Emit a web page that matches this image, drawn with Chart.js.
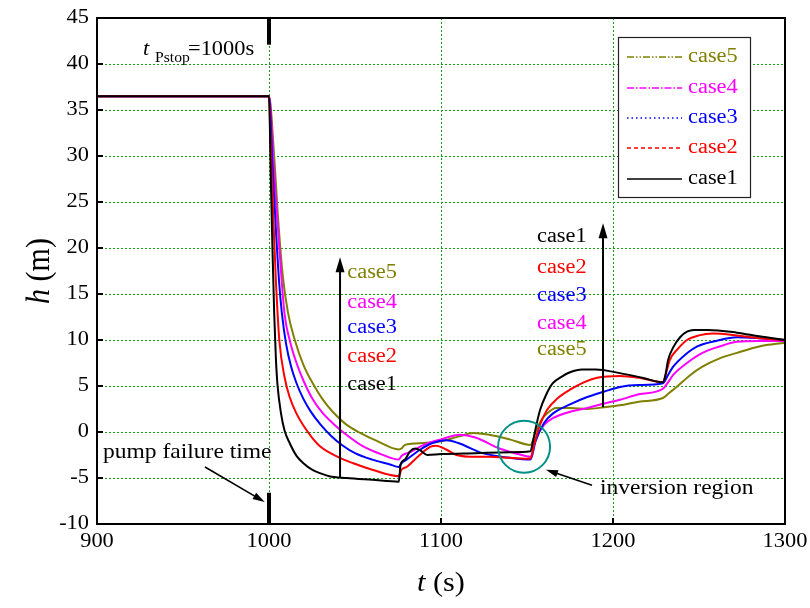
<!DOCTYPE html>
<html>
<head>
<meta charset="utf-8">
<script src="https://cdn.jsdelivr.net/npm/chart.js@4/dist/chart.umd.min.js"></script>
<style>
  html, body { margin: 0; padding: 0; background: #fff; }
  #wrap { width: 810px; height: 608px; }
</style>
</head>
<body>
<div id="wrap"><canvas id="c" width="810" height="608"></canvas></div>
<script>
// Water level h (m) after pump stop, five cases
const case1T = [900, 1000, 1001, 1002, 1003, 1004, 1005, 1007, 1009, 1012, 1016, 1020, 1025, 1030, 1035, 1045, 1060, 1075.5, 1076.5, 1079, 1082, 1085, 1088, 1092, 1100, 1120, 1140, 1152, 1153.5, 1155.5, 1157.6, 1161, 1165, 1170, 1175, 1182, 1190, 1204, 1217, 1229, 1230.5, 1232, 1235, 1239, 1243, 1247, 1255, 1272, 1285, 1300];
const case1H = [36.5, 36.5, 28, 20, 13, 8, 5, 2, 0.2, -1.2, -2.6, -3.4, -4.1, -4.5, -4.8, -5.0, -5.2, -5.4, -3.5, -3.0, -2.1, -1.8, -2.0, -2.5, -2.4, -2.3, -2.2, -2.1, -1.0, 0.8, 2.4, 4.0, 5.3, 6.0, 6.5, 6.8, 6.8, 6.4, 5.9, 5.4, 6.2, 7.8, 9.2, 10.3, 10.9, 11.1, 11.1, 10.8, 10.4, 10.0];

const case2T = [900, 1000, 1001, 1002, 1003, 1004, 1006, 1009, 1012, 1016, 1020, 1025, 1030, 1040, 1049, 1060, 1075.5, 1077, 1080, 1087, 1094, 1097, 1103, 1109, 1120, 1128, 1140, 1152, 1154, 1157, 1161.6, 1168, 1175, 1183, 1190.7, 1204, 1215, 1229, 1231, 1233, 1238, 1243, 1250, 1258, 1272, 1285, 1300];
const case2H = [36.5, 36.5, 31, 26, 21, 16.5, 10, 6.0, 3.8, 2.0, 0.7, -0.6, -1.6, -2.7, -3.4, -4.1, -4.8, -4.1, -3.8, -2.6, -1.6, -1.5, -1.9, -2.5, -2.7, -2.7, -2.8, -2.9, -1.5, 0.5, 2.4, 3.7, 4.6, 5.4, 5.9, 6.1, 5.9, 5.4, 6.5, 7.8, 9.1, 10.0, 10.5, 10.7, 10.5, 10.2, 10.0];

const case3T = [900, 1000, 1002, 1004, 1006, 1007.5, 1010, 1013, 1016, 1020, 1024, 1030, 1036, 1043, 1050, 1060, 1070, 1075.5, 1077, 1080, 1088, 1095, 1103, 1110, 1124, 1140, 1152, 1155, 1160, 1165, 1175, 1185, 1195, 1204, 1215, 1229, 1232, 1235, 1242, 1249, 1260, 1272, 1285, 1300];
const case3H = [36.5, 36.5, 29, 22, 16, 12.9, 9.5, 7, 5.3, 3.6, 2.3, 0.8, -0.4, -1.5, -2.3, -3.0, -3.5, -3.8, -3.4, -3.0, -1.9, -1.2, -0.9, -1.2, -2.3, -2.8, -3.0, -1.0, 1.0, 2.0, 3.0, 3.8, 4.4, 4.9, 5.1, 5.3, 6.2, 7.1, 8.4, 9.3, 9.9, 10.3, 10.2, 10.0];

const case4T = [900, 1000, 1003, 1006, 1009, 1012, 1016, 1020, 1025, 1031, 1038, 1045, 1055, 1065, 1075.5, 1077, 1082, 1090, 1100, 1111, 1120, 1134, 1145, 1152, 1155, 1160, 1165, 1175, 1185, 1195, 1204, 1215, 1229, 1232, 1235, 1243, 1252, 1262, 1272, 1285, 1300];
const case4H = [36.5, 36.5, 28, 20, 12.9, 10, 7.5, 5.6, 3.7, 2.1, 0.8, -0.3, -1.6, -2.4, -3.0, -2.6, -2.2, -1.4, -0.8, -0.3, -0.6, -1.8, -2.4, -2.7, -0.8, 0.8, 1.5, 2.2, 2.6, 3.1, 3.5, 4.1, 4.7, 5.4, 6.2, 7.5, 8.6, 9.3, 9.8, 9.9, 9.9];

const case5T = [900, 1000, 1003, 1005, 1008, 1011, 1015, 1020, 1026, 1031, 1037, 1045, 1053, 1063, 1075.5, 1077, 1079, 1090, 1100, 1110, 1119, 1128, 1140, 1152, 1155, 1158, 1161.6, 1167, 1175, 1185, 1195, 1204, 1215, 1229, 1233, 1237, 1245, 1252, 1262, 1272, 1285, 1300];
const case5H = [36.5, 36.5, 30, 24, 17, 13, 10, 7.3, 5.1, 3.6, 2.2, 0.8, -0.1, -1.0, -1.9, -1.8, -1.4, -1.2, -1.0, -0.5, -0.1, -0.3, -0.8, -1.4, 0, 1.2, 2.0, 2.6, 2.6, 2.5, 2.7, 2.9, 3.3, 3.7, 4.3, 4.9, 6.2, 7.1, 8.0, 8.6, 9.3, 9.7];

const caseLabels = ['case1', 'case2', 'case3', 'case4', 'case5'];
const caseColors = ['#000000', '#ff0000', '#0000ff', '#ff00ff', '#808000'];
const caseDashes = [[], [4, 3], [1.5, 3], [7, 2, 1.5, 2], [7, 2, 1.5, 2, 1.5, 2]];

const xTicks = [900, 1000, 1100, 1200, 1300];
const yTicks = [-10, -5, 0, 5, 10, 15, 20, 25, 30, 35, 40, 45];

const pumpStop = 1000;

const SERIF = '"Liberation Serif", "Times New Roman", serif';
const WIDE = 1.12;   // horizontal stretch of the lettering

function pairs(ts, hs) { return ts.map((t, i) => ({ x: t, y: hs[i] })); }
const series = [[case1T, case1H], [case2T, case2H], [case3T, case3H], [case4T, case4H], [case5T, case5H]];

const datasets = series.map((s, i) => ({
  label: caseLabels[i],
  data: pairs(s[0], s[1]),
  borderColor: caseColors[i],
  backgroundColor: caseColors[i],
  borderWidth: 2,
  pointRadius: 0,
  fill: false,
  cubicInterpolationMode: 'monotone'
}));

function wideText(ctx, s, x, y, align, font, color) {
  ctx.save();
  ctx.translate(x, y);
  ctx.scale(WIDE, 1);
  ctx.font = font;
  ctx.fillStyle = color || '#000';
  ctx.textAlign = align || 'left';
  ctx.textBaseline = 'middle';
  ctx.fillText(s, 0, 0);
  ctx.restore();
}

function textWidth(ctx, s, font) {
  ctx.font = font;
  return ctx.measureText(s).width * WIDE;
}

function arrow(ctx, x1, y1, x2, y2, head, width) {
  const a = Math.atan2(y2 - y1, x2 - x1);
  ctx.beginPath();
  ctx.moveTo(x1, y1);
  ctx.lineTo(x2 - Math.cos(a) * head * 0.8, y2 - Math.sin(a) * head * 0.8);
  ctx.lineWidth = width;
  ctx.stroke();
  ctx.beginPath();
  ctx.moveTo(x2, y2);
  ctx.lineTo(x2 - head * Math.cos(a) + head * 0.3 * Math.sin(a), y2 - head * Math.sin(a) - head * 0.3 * Math.cos(a));
  ctx.lineTo(x2 - head * Math.cos(a) - head * 0.3 * Math.sin(a), y2 - head * Math.sin(a) + head * 0.3 * Math.cos(a));
  ctx.closePath();
  ctx.fill();
}

const decor = {
  id: 'decor',
  beforeDatasetsDraw(chart) {
    const { ctx, chartArea: ca, scales: { x, y } } = chart;
    ctx.save();
    ctx.strokeStyle = '#149a14';
    ctx.lineWidth = 1;
    ctx.setLineDash([2, 2]);
    xTicks.forEach(v => {
      const px = Math.round(x.getPixelForValue(v)) + 0.5;
      ctx.beginPath(); ctx.moveTo(px, ca.top); ctx.lineTo(px, ca.bottom); ctx.stroke();
    });
    yTicks.forEach(v => {
      const py = Math.round(y.getPixelForValue(v)) + 0.5;
      ctx.beginPath(); ctx.moveTo(ca.left, py); ctx.lineTo(ca.right, py); ctx.stroke();
    });
    ctx.restore();
  },
  afterDatasetsDraw(chart) {
    const { ctx, chartArea: ca, scales: { x, y } } = chart;
    const X = v => x.getPixelForValue(v);
    const Y = v => y.getPixelForValue(v);
    ctx.save();
    ctx.setLineDash([]);
    ctx.strokeStyle = '#000';
    ctx.fillStyle = '#000';

    // frame
    ctx.lineWidth = 2;
    ctx.strokeRect(ca.left, ca.top, ca.right - ca.left, ca.bottom - ca.top);

    // inward ticks and tick labels
    const tickFont = '20px ' + SERIF;
    yTicks.forEach(v => {
      ctx.beginPath(); ctx.moveTo(ca.left, Y(v)); ctx.lineTo(ca.left + 6, Y(v)); ctx.stroke();
      const w = textWidth(ctx, String(v), tickFont);
      wideText(ctx, String(v), ca.left - 8 - w, Y(v), 'left', tickFont);
    });
    xTicks.forEach(v => {
      ctx.beginPath(); ctx.moveTo(X(v), ca.bottom); ctx.lineTo(X(v), ca.bottom - 6); ctx.stroke();
      const w = textWidth(ctx, String(v), tickFont);
      wideText(ctx, String(v), X(v) - w / 2, ca.bottom + 18, 'left', tickFont);
    });

    // pump stop marks
    ctx.lineWidth = 4;
    ctx.beginPath(); ctx.moveTo(X(pumpStop), Y(45)); ctx.lineTo(X(pumpStop), Y(42.1)); ctx.stroke();
    ctx.beginPath(); ctx.moveTo(X(pumpStop), Y(-10)); ctx.lineTo(X(pumpStop), Y(-6.6)); ctx.stroke();

    // t_Pstop label
    wideText(ctx, 't', 143, 50, 'left', 'italic 20px ' + SERIF);
    wideText(ctx, 'Pstop', 155, 58, 'left', '14px ' + SERIF);
    wideText(ctx, '=1000s', 188, 50, 'left', '20px ' + SERIF);

    // pump failure time
    const noteFont = '21px ' + SERIF;
    wideText(ctx, 'pump failure time', X(903.5), Y(-2.2), 'left', noteFont);
    arrow(ctx, X(962.8), Y(-3.8), X(997.5), Y(-7.6), 12, 1.6);

    // vertical arrows
    arrow(ctx, X(1041.3), Y(-4.9), X(1041.3), Y(19.0), 15, 2);
    arrow(ctx, X(1194.2), Y(2.7), X(1194.2), Y(22.7), 15, 2);

    // case labels next to the arrows
    const leftY = [5.1, 8.2, 11.3, 14.1, 17.3];
    const rightY = [21.2, 17.9, 14.8, 11.8, 8.9];
    const caseFont = '20px ' + SERIF;
    caseLabels.forEach((lab, i) => {
      wideText(ctx, lab, X(1045.5), Y(leftY[i]), 'left', caseFont, caseColors[i]);
      wideText(ctx, lab, X(1155.8), Y(rightY[i]), 'left', caseFont, caseColors[i]);
    });

    // inversion region
    ctx.strokeStyle = '#009088';
    ctx.lineWidth = 2;
    ctx.beginPath();
    ctx.arc(X(1148.3), Y(-1.6), 26, 0, Math.PI * 2);
    ctx.stroke();
    ctx.strokeStyle = '#000';
    ctx.fillStyle = '#000';
    arrow(ctx, X(1187.8), Y(-5.8), X(1161.0), Y(-4.1), 12, 1.6);
    wideText(ctx, 'inversion region', X(1192.4), Y(-6.1), 'left', noteFont);

    // legend
    const lx = 618, ly = 37, lw = 132, lh = 160;
    ctx.fillStyle = '#fff';
    ctx.fillRect(lx, ly, lw, lh);
    ctx.strokeStyle = '#222';
    ctx.lineWidth = 1.2;
    ctx.strokeRect(lx + 0.5, ly + 0.5, lw, lh);
    const rowY = [179, 148, 118, 88, 57];
    for (let i = 4; i >= 0; i--) {
      ctx.strokeStyle = caseColors[i];
      ctx.lineWidth = 1.6;
      ctx.setLineDash(caseDashes[i]);
      ctx.beginPath(); ctx.moveTo(627, rowY[i]); ctx.lineTo(682, rowY[i]); ctx.stroke();
      ctx.setLineDash([]);
      wideText(ctx, caseLabels[i], 688, rowY[i], 'left', caseFont, caseColors[i]);
    }

    // axis titles
    const tf = 'italic 27px ' + SERIF, nf = '27px ' + SERIF;
    const tW = textWidth(ctx, 't', tf), sW = textWidth(ctx, ' (s)', nf);
    let sx = (ca.left + ca.right) / 2 - (tW + sW) / 2;
    wideText(ctx, 't', sx, 584, 'left', tf);
    wideText(ctx, ' (s)', sx + tW, 584, 'left', nf);

    ctx.save();
    ctx.translate(40, (ca.top + ca.bottom) / 2);
    ctx.rotate(-Math.PI / 2);
    ctx.scale(1, WIDE);
    ctx.textBaseline = 'middle';
    ctx.fillStyle = '#000';
    ctx.font = 'italic 30px ' + SERIF;
    const hW = ctx.measureText('h').width;
    ctx.font = '30px ' + SERIF;
    const mW = ctx.measureText(' (m)').width;
    sx = -(hW + mW) / 2;
    ctx.font = 'italic 30px ' + SERIF;
    ctx.fillText('h', sx, 0);
    ctx.font = '30px ' + SERIF;
    ctx.fillText(' (m)', sx + hW, 0);
    ctx.restore();

    ctx.restore();
  }
};

new Chart(document.getElementById('c'), {
  type: 'line',
  data: { datasets },
  options: {
    responsive: false,
    animation: false,
    layout: { padding: { top: 18, right: 25, left: 0, bottom: 0 } },
    plugins: { legend: { display: false }, tooltip: { enabled: false } },
    scales: {
      x: {
        type: 'linear',
        min: 900, max: 1300,
        afterFit(s) { s.height = 84; },
        ticks: { display: false },
        grid: { display: false },
        border: { display: false }
      },
      y: {
        min: -10, max: 45,
        afterFit(s) { s.width = 97; },
        ticks: { display: false },
        grid: { display: false },
        border: { display: false }
      }
    }
  },
  plugins: [decor]
});
</script>
</body>
</html>
